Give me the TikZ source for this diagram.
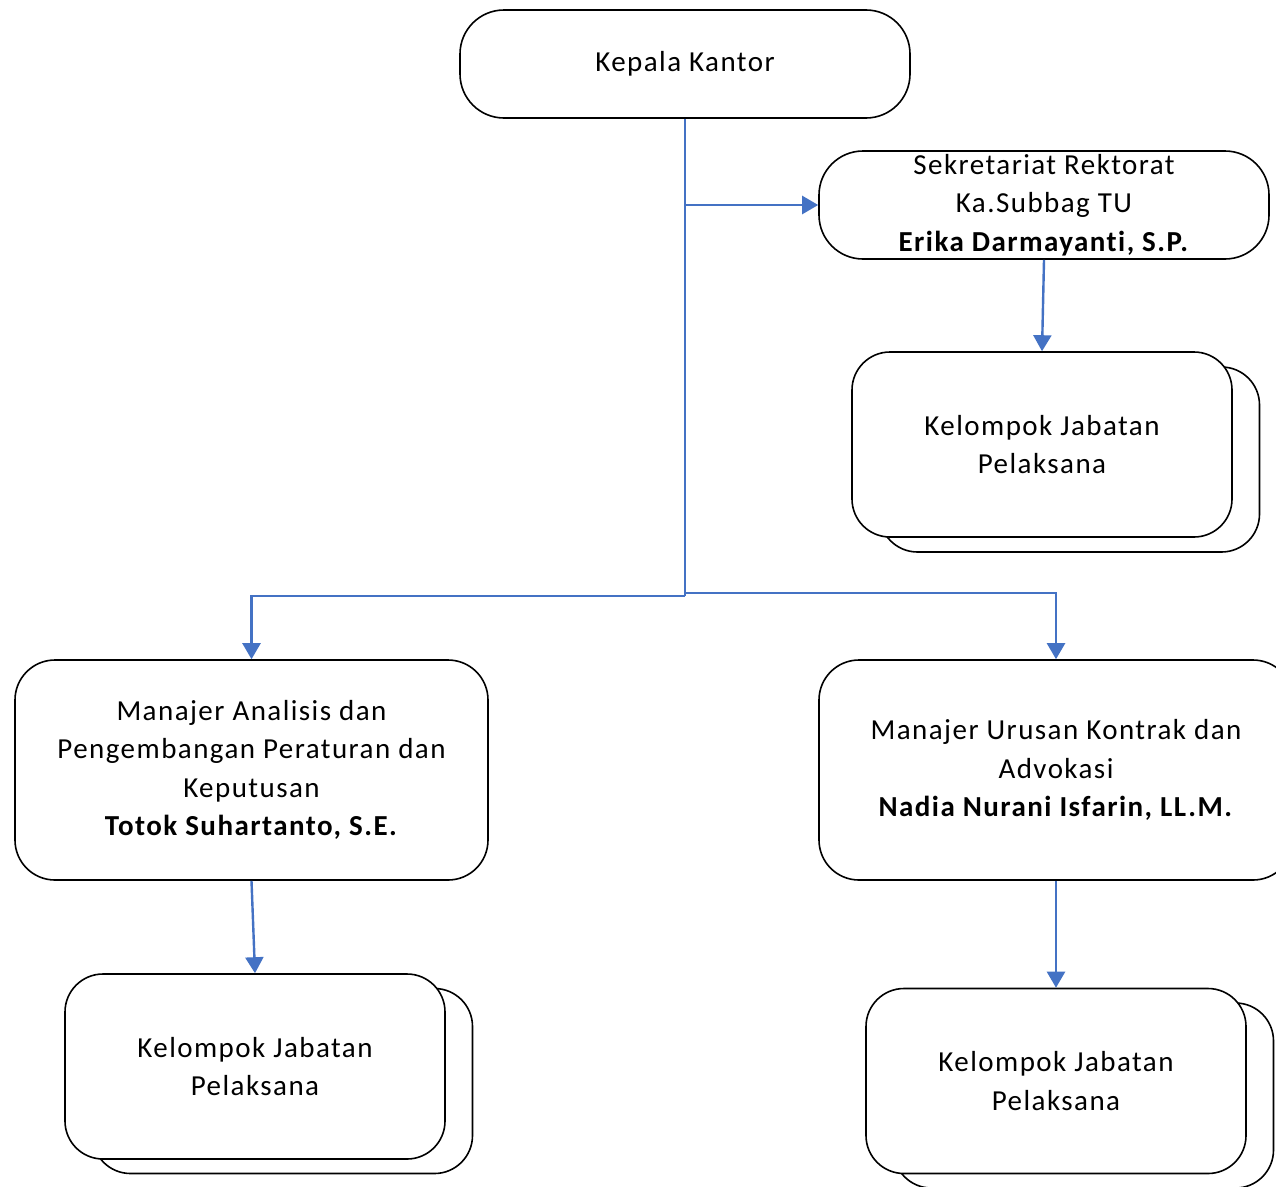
\documentclass[tikz,border=0pt]{standalone}
\usepackage{fontspec}
\setmainfont{Carlito}[LetterSpace=5, Ligatures=NoCommon]
\usetikzlibrary{arrows.meta}
\definecolor{linkblue}{HTML}{4472C4}
\begin{document}
\begin{tikzpicture}[x=1pt,y=-1pt,
  box/.style={draw=black, line width=1.6pt, fill=white, rectangle, rounded corners=#1,
    inner sep=0pt, align=center, font=\fontsize{29}{38.3}\selectfont},
  box/.default=44pt,
  small/.style={minimum width=450pt, minimum height=108pt},
  tall/.style={minimum width=473pt, minimum height=220pt},
  group/.style={minimum width=380pt, minimum height=185pt},
  link/.style={draw=linkblue, line width=2.4pt},
  arr/.style={link, -{Triangle[length=16pt,width=18pt]}}]
\clip (0,0) rectangle (1276,1186);
\fill[white] (0,0) rectangle (1276,1186);

% boxes
\node[box, small] (kep) at (685,64) {Kepala Kantor};
\node[box, small] (sek) at (1044,205) {Sekretariat Rektorat\\Ka.Subbag TU\\\textbf{Erika Darmayanti, S.P.}};

\node[box=38pt, group] (kel1b) at (1069.5,459.5) {};
\node[box=38pt, group] (kel1) at (1042,444.5) {Kelompok Jabatan\\Pelaksana};

\node[box=40pt, tall] (manA) at (251.5,770) {Manajer Analisis dan\\Pengembangan Peraturan dan\\Keputusan\\\textbf{Totok Suhartanto, S.E.}};
\node[box=40pt, tall, minimum width=474pt] (manU) at (1056,770) {Manajer Urusan Kontrak dan\\Advokasi\\\textbf{Nadia Nurani Isfarin, LL.M.}};

\node[box=38pt, group] (kel2b) at (282.5,1081) {};
\node[box=38pt, group] (kel2) at (255,1066.5) {Kelompok Jabatan\\Pelaksana};

\node[box=38pt, group] (kel3b) at (1083.5,1095.5) {};
\node[box=38pt, group] (kel3) at (1056,1081) {Kelompok Jabatan\\Pelaksana};

% connectors
\coordinate (tb) at (685,596);
\coordinate (tr) at (685,593);
\draw[link] (kep.south) -- (tb);
\draw[arr] (kep.south |- sek.west) -- (sek.west);
\draw[arr] (tb) -| (manA.north);
\draw[arr] (tr) -| (manU.north);
\draw[arr] (sek.south) -- (kel1.north);
\draw[arr] (manA.south) -- (kel2.north);
\draw[arr] (manU.south) -- (kel3.north);
\end{tikzpicture}
\end{document}
